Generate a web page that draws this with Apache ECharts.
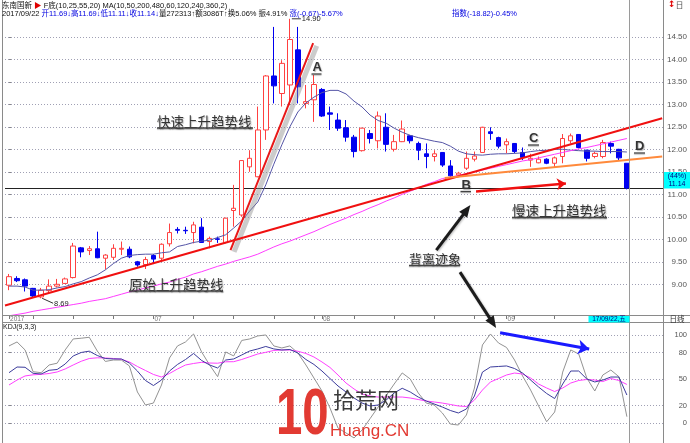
<!DOCTYPE html>
<html>
<head>
<meta charset="utf-8">
<script src="https://cdn.jsdelivr.net/npm/echarts@6/dist/echarts.min.js"></script>
<style>
  html, body { margin: 0; padding: 0; background: #ffffff; }
  #chart { width: 690px; height: 443px; }
</style>
</head>
<body>
<div id="chart"></div>
<script>
// Daily bars, 2017-06-07 .. 2017-09-22
const openP = [8.98,9.13,9.10,8.91,8.72,8.86,8.96,9.02,9.15,9.81, 9.75,9.79,9.58,9.60,9.78,9.78,9.50,9.44,9.64,9.58,
  9.90,10.22,10.20,10.15,10.27,9.95,10.01,9.93,10.64,10.54, 11.61,11.39,12.43,13.63,13.24,13.43,14.21,13.02,13.10,13.33,
  12.81,12.65,12.48,12.27,11.97,12.35,12.19,12.49,12.00,12.17, 12.30,12.13,11.90,11.84,11.93,11.63,11.43,11.58,11.78,11.93,
  12.39,12.26,12.10,12.13,11.93,11.76,11.70,11.78,11.69,11.84, 12.19,12.33,11.98,11.84,11.84,12.13,12.00,11.69];
const highP = [9.23,9.18,9.13,8.92,8.92,9.11,9.12,9.15,9.92,9.83, 9.85,10.17,9.67,9.89,9.95,9.84,9.52,9.61,9.67,9.91,
  10.35,10.27,10.28,10.39,10.47,10.06,10.06,10.48,11.21,11.76, 11.98,12.95,13.65,14.72,13.98,14.90,14.72,13.43,13.65,13.36,
  12.95,12.80,12.65,12.32,12.48,12.43,12.84,12.80,12.32,12.64, 12.32,12.17,12.13,11.98,11.93,11.76,11.50,11.95,11.95,12.50,
  12.49,12.28,12.24,12.14,12.04,11.90,11.84,11.80,11.84,12.34, 12.35,12.34,11.99,11.95,12.21,12.17,12.01,11.69];
const lowP = [8.87,9.05,8.84,8.72,8.69,8.81,8.93,9.01,9.13,9.60, 9.65,9.58,9.33,9.54,9.65,9.58,9.39,9.34,9.45,9.54,
  9.84,10.13,10.12,9.91,9.92,9.80,9.92,9.91,10.28,10.50, 11.50,11.38,12.21,13.02,12.95,12.98,13.02,12.91,12.61,12.72,
  12.43,12.41,12.17,11.82,11.95,12.13,12.02,11.95,11.95,12.16, 12.13,11.76,11.58,11.73,11.61,11.36,11.39,11.54,11.73,11.92,
  12.21,12.02,11.91,11.91,11.76,11.61,11.69,11.67,11.60,11.69, 12.13,12.02,11.73,11.80,11.80,11.91,11.76,11.11];
const closeP = [9.17,9.08,8.96,8.74,8.87,8.96,9.00,9.12,9.85,9.72, 9.79,9.59,9.65,9.80,9.80,9.61,9.43,9.55,9.56,9.89,
  10.15,10.20,10.19,10.32,9.93,10.02,10.00,10.47,10.69,11.75, 11.80,12.43,13.63,13.41,13.91,14.44,13.39,13.06,13.44,12.74,
  12.78,12.47,12.27,11.95,12.47,12.24,12.74,12.11,12.17,12.45, 12.19,11.98,11.84,11.90,11.65,11.41,11.47,11.80,11.85,12.49,
  12.35,12.07,12.17,11.95,11.82,11.80,11.78,11.69,11.81,12.24, 12.30,12.04,11.80,11.91,12.15,12.07,11.81,11.14];

// Moving averages
const ma10 = [8.96,8.96,8.94,8.87,8.87,8.88,8.92,8.95,9.01,9.06, 9.14,9.21,9.32,9.46,9.58,9.64,9.66,9.67,9.67,9.70,
  9.72,9.84,9.88,9.93,9.96,9.98,10.04,10.10,10.25,10.41, 10.63,10.83,11.21,11.67,12.10,12.50,12.83,13.03,13.16,13.26,
  13.31,13.31,13.23,13.07,12.94,12.76,12.64,12.58,12.47,12.38, 12.31,12.26,12.22,12.18,12.15,12.07,11.96,11.90,11.88,11.87,
  11.89,11.90,11.90,11.91,11.92,11.95,11.97,11.98,12.00,12.00, 11.98,11.97,11.96,11.96,11.95,11.95,11.95,11.94];
const ma50 = [8.30,8.33,8.36,8.40,8.43,8.46,8.49,8.52,8.55,8.58, 8.62,8.65,8.68,8.73,8.78,8.83,8.87,8.92,8.96,9.01,
  9.05,9.11,9.16,9.23,9.28,9.34,9.40,9.45,9.51,9.56, 9.61,9.67,9.75,9.83,9.90,9.96,10.03,10.10,10.17,10.25,
  10.33,10.40,10.47,10.55,10.62,10.70,10.77,10.85,10.92,11.00, 11.07,11.14,11.22,11.28,11.35,11.38,11.42,11.46,11.50,11.54,
  11.58,11.62,11.66,11.70,11.74,11.77,11.81,11.85,11.89,11.93, 11.97,12.01,12.04,12.08,12.12,12.16,12.20,12.24];

// KDJ(9,3,3)
const kdjK = [57.3,63.7,63.4,56.6,55.8,60.0,60.9,67.1,76.2,80.1, 81.6,76.7,73.3,72.8,72.8,68.2,59.2,48.5,42.8,49.0,
  59.2,66.6,72.2,79.0,71.1,66.0,62.6,71.6,72.8,77.3, 81.8,84.1,86.9,84.1,82.9,83.5,79.5,72.2,66.6,59.2,
  50.7,42.3,35.5,28.7,23.0,19.7,20.8,26.4,34.4,39.7, 35.5,29.8,25.3,21.9,18.5,14.6,11.8,16.3,31.0,58.0,
  63.7,64.3,64.9,62.0,56.9,49.0,41.1,33.8,28.1,44.5, 59.2,59.2,50.2,46.8,49.0,52.4,52.4,32.1];
const kdjD = [43.4,49.0,53.6,54.9,55.4,56.4,58.1,61.5,66.0,70.2, 73.3,74.1,73.9,73.3,72.4,69.4,64.3,59.8,55.3,52.4,
  56.4,61.5,66.0,67.7,69.0,68.2,68.0,69.6,69.7,72.2, 75.3,78.4,80.3,82.4,82.9,82.9,81.5,79.0,75.0,69.4,
  63.2,54.7,45.6,38.9,33.2,31.0,29.8,29.8,29.8,29.8, 28.7,27.0,25.3,24.2,23.0,21.4,19.7,19.1,26.4,37.7,
  46.8,50.7,54.7,56.9,55.8,51.3,44.5,40.0,36.0,40.0, 45.6,48.5,49.6,49.0,47.3,50.7,48.5,44.0];
const kdjJ = [87.5,92.0,83.0,58.4,57.3,66.0,68.0,83.0,95.4,96.2, 97.3,81.8,70.0,71.6,71.6,64.9,35.5,20.8,23.0,43.4,
  73.9,87.5,92.0,101.0,80.7,66.0,52.8,80.7,76.2,93.7, 95.4,98.8,99.9,87.5,85.2,87.5,79.5,66.0,51.3,36.6,
  17.4,-5.2,-10.8,-16.4,-7.5,5.5,18.5,31.5,44.5,57.0, 50.2,34.4,23.0,20.8,11.8,-0.7,-1.8,9.5,40.0,88.6,
  101.0,90.8,85.8,71.6,53.6,37.7,19.7,1.9,12.9,58.0, 83.0,78.4,51.3,36.6,54.7,60.3,52.8,7.6];

// Axis ticks
const priceTicks = [9.0, 9.5, 10.0, 10.5, 11.0, 11.5, 12.0, 12.5, 13.0, 13.5, 14.0, 14.5];
const kdjTicks = [0, 20, 50, 80, 100];
const monthLabels = { 0: '2017', 18: '07', 39: '08', 62: '09' };

// Hand-drawn trend lines: [barIndex, price] pairs
const lineOrigin = [[-0.5, 8.53], [81.4, 12.69]];
const lineFast = [[27.6, 9.76], [37.9, 14.36]];
const lineSlow = [[54.3, 11.36], [81.4, 11.84]];
const arrowB = [[58.2, 11.06], [69.4, 11.24]];
const arrowKdj = [[61.2, 102.5], [72.3, 84.1]];
// Divergence arrows: tail in the price pane, heads in price / KDJ panes
const arrowUp = [[53.25, 9.76], [57.5, 10.76]];
const arrowDownTail = [56.2, 9.27];
const arrowDownHead = [60.7, 107.8];

// Trading-day calendar (with four trailing empty slots)
const dates = [], mondays = new Set();
(function () {
  const d = new Date(Date.UTC(2017, 5, 7));
  const end = Date.UTC(2017, 8, 28);
  while (d.getTime() <= end) {
    const wd = d.getUTCDay();
    if (wd !== 0 && wd !== 6) {
      if (wd === 1) mondays.add(dates.length);
      dates.push(d.toISOString().slice(0, 10));
    }
    d.setUTCDate(d.getUTCDate() + 1);
  }
})();
const nBars = closeP.length;
const tickSet = new Set([0, 18, 39, 62]);
mondays.forEach(i => { if (i < nBars) tickSet.add(i); });

const candles = openP.map((o, i) => [o, closeP[i], lowP[i], highP[i]]);
const pairs = arr => arr.map((v, i) => [i, v]);

const CJK = '"Noto Sans CJK SC"';
const SANS = '"Liberation Sans", "Noto Sans CJK SC"';

const chart = echarts.init(document.getElementById('chart'), null, { renderer: 'canvas' });

const option = {
  animation: false,
  backgroundColor: '#ffffff',
  grid: [
    { left: 5, top: 18, width: 659, height: 297 },
    { left: 5, top: 323, width: 659, height: 120 }
  ],
  xAxis: [
    {
      type: 'category', gridIndex: 0, data: dates, boundaryGap: true,
      axisLine: { show: false },
      axisTick: { show: true, alignWithLabel: true, length: 4,
        interval: (i) => tickSet.has(i), lineStyle: { color: '#777' } },
      axisLabel: { interval: (i) => i in monthLabels, formatter: (v, i) => monthLabels[i] || '',
        fontSize: 6.5, color: '#777', margin: 1, align: 'left', padding: [0, 0, 0, 1],
        fontFamily: 'Liberation Sans' },
      splitLine: { show: false }
    },
    { type: 'value', gridIndex: 0, min: -0.5, max: 81.5, show: false },
    { type: 'category', gridIndex: 1, data: dates, boundaryGap: true, show: false },
    { type: 'value', gridIndex: 1, min: -0.5, max: 81.5, show: false }
  ],
  yAxis: [
    {
      type: 'value', gridIndex: 0, position: 'right', min: 8.318, max: 14.918,
      splitLine: { show: false }, axisLine: { show: false },
      axisTick: { show: true, customValues: priceTicks, length: 3, lineStyle: { color: '#888' } },
      axisLabel: { customValues: priceTicks, formatter: v => v.toFixed(2), fontSize: 8,
        color: '#555', align: 'right', margin: 24, fontFamily: 'Liberation Sans' }
    },
    {
      type: 'value', gridIndex: 1, position: 'right', min: -22.1, max: 113.4,
      splitLine: { show: false }, axisLine: { show: false },
      axisTick: { show: true, customValues: kdjTicks, length: 3, lineStyle: { color: '#888' } },
      axisLabel: { customValues: kdjTicks, fontSize: 7.5, color: '#555', align: 'right',
        margin: 24, fontFamily: 'Liberation Sans' }
    }
  ],
  series: [
    {
      name: 'K线', type: 'candlestick', xAxisIndex: 0, yAxisIndex: 0, data: candles,
      barWidth: 5, silent: true, z: 3,
      itemStyle: { color: '#ffffff', color0: '#0000f0', borderColor: '#ff4040',
        borderColor0: '#0000f0', borderWidth: 1 },
      markLine: {
        silent: true, symbol: 'none', label: { show: false }, z: 2,
        lineStyle: { color: '#222', width: 1, type: 'solid' },
        data: [{ yAxis: closeP[nBars - 1] }]
      }
    },
    {
      name: 'MA10', type: 'line', xAxisIndex: 0, yAxisIndex: 0, data: ma10,
      symbol: 'none', silent: true, z: 4,
      lineStyle: { color: '#5454a6', width: 1 },
      markLine: {
        silent: true, symbol: 'none', label: { show: false }, z: 1,
        lineStyle: { color: '#a0a0b4', width: 1, type: [1, 2] },
        data: priceTicks.map(v => ({ yAxis: v }))
      }
    },
    {
      name: 'MA50', type: 'line', xAxisIndex: 1, yAxisIndex: 0, data: pairs(ma50),
      symbol: 'none', silent: true, z: 4,
      lineStyle: { color: '#ff3cff', width: 1 },
      markLine: {
        silent: true, symbol: 'none', label: { show: false }, z: 6,
        lineStyle: { type: 'solid' },
        data: [
          [{ coord: [lineFast[0][0] + 0.45, lineFast[0][1] - 0.04] },
           { coord: [lineFast[1][0] + 0.45, lineFast[1][1] - 0.06],
             lineStyle: { color: 'rgba(140,140,140,0.45)', width: 5, type: 'solid' } }],
          [{ coord: lineOrigin[0] }, { coord: lineOrigin[1], lineStyle: { color: '#f01010', width: 2, type: 'solid' } }],
          [{ coord: lineFast[0] }, { coord: lineFast[1], lineStyle: { color: '#e81818', width: 2, type: 'solid' } }],
          [{ coord: lineSlow[0] }, { coord: lineSlow[1], lineStyle: { color: '#ff8a3c', width: 2, type: 'solid' } }],
          [{ coord: arrowB[0], symbol: 'none' },
           { coord: arrowB[1], symbol: 'arrow', symbolSize: 9, lineStyle: { color: '#f01010', width: 2.5, type: 'solid' } }]
        ]
      }
    },
    {
      name: 'K', type: 'line', xAxisIndex: 2, yAxisIndex: 1, data: kdjK,
      symbol: 'none', silent: true, z: 4, lineStyle: { color: '#3c3c9c', width: 1 },
      markLine: {
        silent: true, symbol: 'none', label: { show: false }, z: 1,
        lineStyle: { color: '#a0a0b4', width: 1, type: [1, 2] },
        data: kdjTicks.map(v => ({ yAxis: v }))
      }
    },
    {
      name: 'D', type: 'line', xAxisIndex: 3, yAxisIndex: 1, data: pairs(kdjD),
      symbol: 'none', silent: true, z: 3, lineStyle: { color: '#ff40ff', width: 1 },
      markLine: {
        silent: true, label: { show: false }, z: 6,
        lineStyle: { type: 'solid' },
        data: [[{ coord: arrowKdj[0], symbol: 'none' },
                { coord: arrowKdj[1], symbol: 'arrow', symbolSize: 11,
                  lineStyle: { color: '#1a1aff', width: 3, type: 'solid' } }]]
      }
    },
    {
      name: 'J', type: 'line', xAxisIndex: 2, yAxisIndex: 1, data: kdjJ,
      symbol: 'none', silent: true, z: 2, lineStyle: { color: '#939393', width: 1 }
    }
  ]
};
chart.setOption(option);

// ---- overlay: frame, captions, annotations ----
const toPx = (xi, yi, pt) => chart.convertToPixel({ xAxisIndex: xi, yAxisIndex: yi }, pt);

function hline(x1, x2, y, color, w) {
  return { type: 'line', silent: true, z: 20, shape: { x1, y1: y, x2, y2: y }, style: { stroke: color, lineWidth: w || 1 } };
}
function vline(x, y1, y2, color, w) {
  return { type: 'line', silent: true, z: 20, shape: { x1: x, y1, x2: x, y2 }, style: { stroke: color, lineWidth: w || 1 } };
}
function txt(text, x, y, font, fill, align, extra) {
  return Object.assign({ type: 'text', silent: true, z: 30,
    style: { text, x, y, font, fill, textAlign: align || 'left', textVerticalAlign: 'middle' } }, extra || {});
}
function note(text, x, y, font, ulFrom, ulTo, ulY) {
  return [
    { type: 'text', silent: true, z: 30,
      style: { text, x, y, font, fill: '#333', textAlign: 'left', textVerticalAlign: 'middle',
        textShadowColor: 'rgba(0,0,0,0.28)', textShadowBlur: 1, textShadowOffsetX: 1, textShadowOffsetY: 1 } },
    { type: 'line', silent: true, z: 30, shape: { x1: ulFrom, y1: ulY, x2: ulTo, y2: ulY },
      style: { stroke: '#444', lineWidth: 1.3, shadowColor: 'rgba(0,0,0,0.3)', shadowBlur: 1, shadowOffsetY: 1 } }
  ];
}
function arrow(p1, p2, w, headLen, headW, color) {
  const dx = p2[0] - p1[0], dy = p2[1] - p1[1];
  const len = Math.hypot(dx, dy), ux = dx / len, uy = dy / len;
  const bx = p2[0] - ux * headLen, by = p2[1] - uy * headLen;
  return [
    { type: 'line', silent: true, z: 31, shape: { x1: p1[0], y1: p1[1], x2: bx + ux * 2, y2: by + uy * 2 },
      style: { stroke: color, lineWidth: w, shadowColor: 'rgba(0,0,0,0.25)', shadowBlur: 2, shadowOffsetX: 1, shadowOffsetY: 1 } },
    { type: 'polygon', silent: true, z: 31,
      shape: { points: [p2, [bx - uy * headW / 2, by + ux * headW / 2], [bx + uy * headW / 2, by - ux * headW / 2]] },
      style: { fill: color } }
  ];
}

const lastX = Math.round(toPx(1, 0, [nBars - 1, 12])[0]) + 2.5;
const hiIdx = highP.indexOf(Math.max(...highP));
const loIdx = lowP.indexOf(Math.min(...lowP));
const hiPt = toPx(1, 0, [hiIdx, highP[hiIdx]]);
const loPt = toPx(1, 0, [loIdx, lowP[loIdx]]);

const g = [];
// frame
g.push(vline(2.5, 0, 443, '#8a8a8a'));
g.push(vline(663.5, 0, 443, '#8a8a8a'));
g.push(vline(lastX, 0, 443, '#9a9a9a'));
g.push(hline(2, 690, 315.5, '#8a8a8a'));
g.push(hline(2, 690, 322.5, '#8a8a8a'));

// header
const HF = '7.5px ' + SANS;
g.push({ type: 'text', silent: true, z: 30, style: {
  text: '{k|东南国新 }{r|▶}{k| F底(10,25,55,20) MA(10,50,200,480,60,120,240,360,2)}',
  x: 2, y: 5.5, textVerticalAlign: 'middle', font: HF,
  rich: { k: { fill: '#111', font: HF }, r: { fill: '#e00000', font: HF } } } });
g.push({ type: 'text', silent: true, z: 30, style: {
  text: '{k|2017/09/22 }{b|开11.69↓高11.69↓低11.11↓收11.14↓}{k|量272313↑额3086T↑换5.06% 振4.91% }{b|涨(-0.67)-5.67%}',
  x: 2, y: 13.5, textVerticalAlign: 'middle', font: HF,
  rich: { k: { fill: '#111', font: HF }, b: { fill: '#0000e0', font: HF } } } });
g.push(txt('指数(-18.82)-0.45%', 452, 13.5, HF, '#0000e0'));
g.push({ type: 'text', silent: true, z: 30, style: {
  text: '{r|↕}{k|日}', x: 668, y: 5, textVerticalAlign: 'middle', font: '8px ' + SANS,
  rich: { r: { fill: '#e00000', font: 'bold 9px "DejaVu Sans"' }, k: { fill: '#555', font: '8px ' + CJK } } } });

// high / low callouts
g.push({ type: 'line', silent: true, z: 30, shape: { x1: hiPt[0] + 2, y1: hiPt[1], x2: hiPt[0] + 11, y2: hiPt[1] }, style: { stroke: '#333', lineWidth: 1 } });
g.push(txt(highP[hiIdx].toFixed(2), hiPt[0] + 12, hiPt[1], '7.5px "Liberation Sans"', '#222'));
g.push({ type: 'line', silent: true, z: 30, shape: { x1: loPt[0] + 1, y1: loPt[1], x2: loPt[0] + 12, y2: loPt[1] + 5 }, style: { stroke: '#333', lineWidth: 1 } });
g.push(txt(lowP[loIdx].toFixed(2), loPt[0] + 13, loPt[1] + 5.5, '7.5px "Liberation Sans"', '#222'));

// current price tag on the price axis
g.push({ type: 'rect', silent: true, z: 29, shape: { x: 664, y: 172, width: 26, height: 16.5 }, style: { fill: '#00ffff' } });
g.push(txt('(44%)', 677, 176, '7px "Liberation Sans"', '#000080', 'center'));
g.push(txt(closeP[nBars - 1].toFixed(2), 677, 184, '7px "Liberation Sans"', '#000080', 'center'));

// date strip
g.push({ type: 'rect', silent: true, z: 29, shape: { x: lastX - 41, y: 316, width: 41, height: 6.5 }, style: { fill: '#00ffff' } });
g.push(txt('17/09/22,五', lastX - 20.5, 319.3, '6.5px ' + SANS, '#000080', 'center'));
g.push(txt('日线', 677, 319, '7.5px ' + CJK, '#333', 'center'));

// KDJ caption
g.push(txt('KDJ(9,3,3)', 3, 327.5, '7px "Liberation Sans"', '#111'));

// annotations
g.push(...note('快速上升趋势线', 157, 121.5, '13.5px ' + CJK, 157, 253, 128));
g.push(...note('原始上升趋势线', 129, 285, '13.5px ' + CJK, 129, 223, 291));
g.push(...note('慢速上升趋势线', 512, 211, '13.5px ' + CJK, 512, 607, 217.5));
g.push(...note('背离迹象', 409, 259, '13px ' + CJK, 409, 460, 265.5));
g.push(...note('A', 312.5, 67.5, 'bold 13px "Liberation Sans"', 311.5, 321.5, 74));
g.push(...note('B', 461.5, 185.5, 'bold 13px "Liberation Sans"', 460.5, 471, 191.5));
g.push(...note('C', 529, 138.5, 'bold 13px "Liberation Sans"', 528, 539, 145));
g.push(...note('D', 635, 146.5, 'bold 13px "Liberation Sans"', 634, 645, 153));

// divergence arrows
g.push(...arrow(toPx(1, 0, arrowUp[0]), toPx(1, 0, arrowUp[1]), 3, 12, 10, '#1c1c1c'));
g.push(...arrow(toPx(1, 0, arrowDownTail), toPx(3, 1, arrowDownHead), 3, 12, 10, '#1c1c1c'));

// site mark
g.push({ type: 'text', silent: true, z: 25, x: 276, y: 416.5, scaleX: 0.74,
  style: { text: '10', x: 0, y: 0, font: 'bold 64px "Liberation Sans"', fill: '#e23a32', textVerticalAlign: 'middle' } });
g.push(txt('拾荒网', 333, 400, '22px ' + CJK, '#3a3a3a', 'left', { z: 25 }));
g.push(txt('Huang.CN', 330, 431, '17px "Liberation Sans"', '#e23a32', 'left', { z: 25 }));

chart.setOption({ graphic: g });
</script>
</body>
</html>
